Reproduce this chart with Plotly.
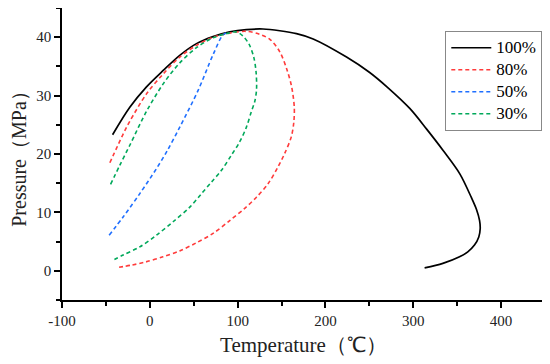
import plotly.graph_objects as go

# ---- data ----
t100 = [-42.4, -22.8, -3.8, 15.2, 34.1, 53.1, 72, 91, 110, 128.9, 148, 167, 186, 224, 250, 270, 296, 315, 334, 353, 366, 372, 375.5, 376.2, 374.6, 369.7, 362.1, 352.7, 333.7, 312.9]
p100 = [23.3, 28.0, 31.5, 34.3, 36.9, 38.9, 40.1, 40.9, 41.3, 41.4, 41.1, 40.6, 39.7, 36.6, 34.0, 31.5, 27.8, 24.3, 20.6, 16.6, 12.6, 10.5, 8.6, 7.2, 5.8, 4.4, 3.25, 2.4, 1.27, 0.5]

t80 = [-45.5, -30.4, -22.8, -3.8, 15.2, 34.1, 53.1, 72, 91, 110, 125, 137, 148, 156, 161.5, 164.5, 164, 161.2, 153.6, 146, 134.6, 121.4, 108.1, 91, 72, 53, 34, 15, -5, -20, -38.7]
p80 = [18.5, 23.4, 25.6, 30.3, 33.7, 36.6, 38.6, 40.0, 40.7, 41.0, 40.5, 39.6, 37.5, 34.5, 31.5, 28.0, 25.5, 23.0, 20.1, 17.8, 14.9, 12.6, 10.7, 8.6, 6.4, 4.8, 3.4, 2.4, 1.5, 1.0, 0.5]

t50 = [-46.3, -30, -11, 8, 20, 34.1, 55, 72, 83.4, 90]
p50 = [6.1, 9.3, 13.3, 17.6, 20.6, 24.6, 30.9, 37.0, 40.4, 40.9]

t30 = [-44.7, -34.1, -22.8, -3.8, 15.2, 34.1, 53.1, 72, 87, 98.6, 106, 113, 118.5, 121, 121.5, 119.5, 115.7, 110, 102.4, 92.9, 81.5, 70.2, 58.8, 45.5, 26.5, 7.6, -11.4, -30.4, -43.6]
p30 = [14.8, 18.1, 21.5, 27.3, 32.0, 35.6, 38.2, 39.9, 40.6, 40.9, 40.2, 38.8, 36.5, 34.0, 31.0, 29.0, 27.3, 24.6, 22.1, 19.8, 17.2, 15.2, 13.2, 10.9, 8.4, 6.1, 4.1, 2.7, 1.66]

names = ["100%", "80%", "50%", "30%"]
colors = ["#000000", "#ff3b3b", "#1f6fff", "#00a85a"]

xtick_vals = [-100, 0, 100, 200, 300, 400]
xtick_text = ["-100", "0", "100", "200", "300", "400"]
ytick_vals = [0, 10, 20, 30, 40]
ytick_text = ["0", "10", "20", "30", "40"]

SERIF = "Liberation Serif"

fig = go.Figure()
series = [(t100, p100), (t80, p80), (t50, p50), (t30, p30)]
for i, ((tx, py), nm, c) in enumerate(zip(series, names, colors)):
    if i == 0:
        line = dict(color=c, width=1.7)
    else:
        line = dict(color=c, width=1.6, dash="4px,3px")
    fig.add_trace(go.Scatter(x=tx, y=py, mode="lines",
                             name='<span style="font-size:17px">%s</span>' % nm,
                             line=line, line_shape="spline", line_smoothing=0.9))

axis_common = dict(
    showline=True, linecolor="black", linewidth=1.5,
    ticks="outside", ticklen=6, tickwidth=1.5, tickcolor="black",
    showgrid=False, zeroline=False, mirror=False,
    tickfont=dict(family=SERIF, size=15, color="#222"),
)

fig.update_xaxes(range=[-100, 450], tickvals=xtick_vals, ticktext=xtick_text,
                 minor=dict(ticks="outside", ticklen=4, tickwidth=1.5, tickcolor="black", dtick=50, tick0=-100),
                 title=dict(text="Temperature（℃）", font=dict(family=SERIF, size=21, color="#222"), standoff=10),
                 **axis_common)
fig.update_yaxes(range=[-5, 45], tickvals=ytick_vals, ticktext=ytick_text,
                 minor=dict(ticks="outside", ticklen=4, tickwidth=1.5, tickcolor="black", dtick=5, tick0=-5),
                 title=dict(text="Pressure（MPa）", font=dict(family=SERIF, size=20, color="#222"), standoff=8),
                 **axis_common)

fig.update_layout(
    width=542, height=356,
    margin=dict(l=54, r=5, t=0, b=64, autoexpand=False),
    plot_bgcolor="white", paper_bgcolor="white",
    showlegend=True,
    legend=dict(x=0.9944, y=0.922, xanchor="right", yanchor="top",
                bordercolor="#888", borderwidth=1, bgcolor="white",
                font=dict(family=SERIF, size=14.6, color="black"),
                tracegroupgap=0, itemwidth=40),
)

fig.write_html("out.html")
